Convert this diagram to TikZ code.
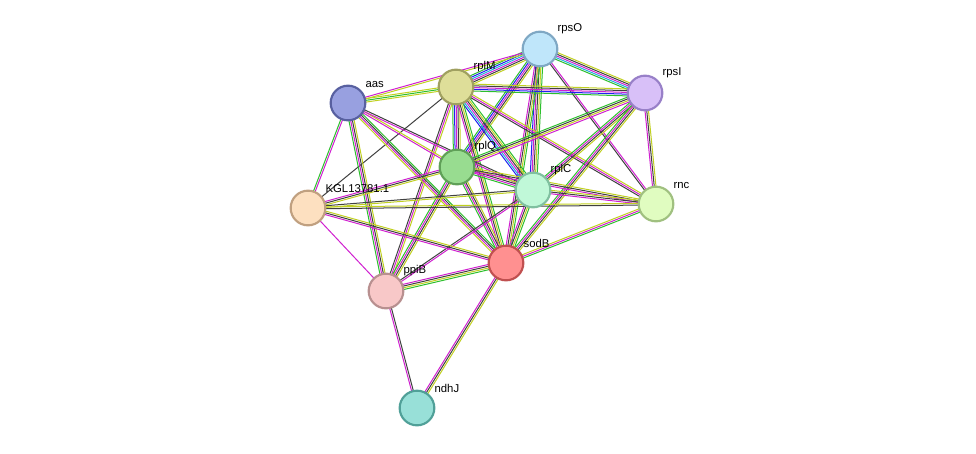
\documentclass[tikz,border=0pt]{standalone}
\usepackage{fontspec}
\setmainfont{Liberation Sans}
\usetikzlibrary{calc}
\definecolor{qg}{HTML}{2DBF2D}
\definecolor{qb}{HTML}{2020F0}
\definecolor{qc}{HTML}{20B0D8}
\definecolor{qm}{HTML}{D020D0}
\definecolor{qk}{HTML}{404040}
\definecolor{qy}{HTML}{C0D020}
\tikzset{prot/.style={circle,minimum size=26pt,inner sep=0pt,line width=1.6pt},
lab/.style={font=\fontsize{8.5pt}{9pt}\selectfont,anchor=south west,inner sep=1pt}}
\newcommand{\edg}[3]{%
 \foreach \c [count=\i] in {#3} {\global\let\n\i}
 \foreach \c [count=\i] in {#3} {
  \pgfmathsetmacro{\d}{(\i-(\n+1)/2)*1.3}
  \draw[color=\c,line width=0.75pt] ($(#1)!\d pt!90:(#2)$) -- ($(#2)!\d pt!-90:(#1)$);
 }}
\begin{document}
\begin{tikzpicture}[x=0.75pt,y=-0.75pt]
\useasboundingbox (0,0) rectangle (976,454);
\coordinate (rpsO) at (540,49);
\coordinate (rplM) at (456,87);
\coordinate (aas) at (348,103);
\coordinate (rpsI) at (645,93);
\coordinate (rplQ) at (457,167);
\coordinate (rplC) at (533,190);
\coordinate (KGL) at (308,208);
\coordinate (rnc) at (656,204);
\coordinate (sodB) at (506,263);
\coordinate (ppiB) at (386,291);
\coordinate (ndhJ) at (417,408);
\edg{rpsO}{rplM}{qg,qb,qc,qm,qk,qy}
\edg{rpsO}{rpsI}{qg,qc,qm,qk,qy}
\edg{rpsO}{aas}{qm,qy}
\edg{rplM}{aas}{qy,qg,qy}
\edg{rpsO}{rplQ}{qg,qb,qm,qk,qy}
\edg{rpsO}{rplC}{qb,qm,qk,qy,qg}
\edg{rpsO}{sodB}{qm,qk,qy,qg}
\edg{rpsO}{rnc}{qk,qm}
\edg{rplM}{rpsI}{qg,qb,qm,qk,qy}
\edg{rplM}{rplQ}{qg,qb,qm,qk,qy}
\edg{rplM}{rplC}{qb,qc,qm,qk,qy,qg}
\edg{rplM}{sodB}{qm,qk,qy,qg}
\edg{rplM}{rnc}{qk,qm,qy}
\edg{rplM}{KGL}{qk}
\edg{rplM}{ppiB}{qk,qm,qy}
\edg{rpsI}{rplQ}{qg,qk,qy,qm}
\edg{rpsI}{rplC}{qg,qm,qk,qy}
\edg{rpsI}{sodB}{qg,qm,qk,qy}
\edg{rpsI}{rnc}{qm,qk,qy}
\edg{aas}{rplQ}{qm,qy}
\edg{aas}{rplC}{qm,qk}
\edg{aas}{sodB}{qy,qm,qk,qg}
\edg{aas}{KGL}{qg,qm}
\edg{aas}{ppiB}{qg,qm,qk,qy}
\edg{rplQ}{rplC}{qg,qm,qk,qy}
\edg{rplQ}{sodB}{qg,qm,qk,qy}
\edg{rplQ}{KGL}{qm,qk,qy}
\edg{rplQ}{ppiB}{qg,qm,qk,qy}
\edg{rplQ}{rnc}{qm,qk,qy}
\edg{rplC}{sodB}{qm,qk,qy,qg}
\edg{rplC}{KGL}{qk,qy}
\edg{rplC}{rnc}{qm,qk,qy}
\edg{rplC}{ppiB}{qk,qm}
\edg{KGL}{sodB}{qm,qk,qy}
\edg{KGL}{ppiB}{qm}
\edg{KGL}{rnc}{qk,qy}
\edg{sodB}{rnc}{qg,qm,qy}
\edg{sodB}{ppiB}{qm,qk,qy,qg}
\edg{sodB}{ndhJ}{qm,qk,qy}
\edg{ppiB}{ndhJ}{qm,qk}
\node[prot,fill={rgb,255:red,191;green,230;blue,250},draw={rgb,255:red,127;green,168;blue,196}] (nrpsO) at (rpsO) {};
\node[prot,fill={rgb,255:red,222;green,222;blue,153},draw={rgb,255:red,160;green,160;blue,96}] (nrplM) at (rplM) {};
\node[prot,fill={rgb,255:red,152;green,160;blue,224},draw={rgb,255:red,88;green,96;blue,160}] (naas) at (aas) {};
\node[prot,fill={rgb,255:red,216;green,192;blue,248},draw={rgb,255:red,152;green,128;blue,200}] (nrpsI) at (rpsI) {};
\node[prot,fill={rgb,255:red,152;green,220;blue,144},draw={rgb,255:red,96;green,160;blue,88}] (nrplQ) at (rplQ) {};
\node[prot,fill={rgb,255:red,192;green,248;blue,216},draw={rgb,255:red,128;green,192;blue,160}] (nrplC) at (rplC) {};
\node[prot,fill={rgb,255:red,253;green,224;blue,192},draw={rgb,255:red,192;green,160;blue,128}] (nKGL) at (KGL) {};
\node[prot,fill={rgb,255:red,224;green,252;blue,192},draw={rgb,255:red,160;green,192;blue,128}] (nrnc) at (rnc) {};
\node[prot,fill={rgb,255:red,255;green,144;blue,144},draw={rgb,255:red,192;green,80;blue,80}] (nsodB) at (sodB) {};
\node[prot,fill={rgb,255:red,248;green,200;blue,200},draw={rgb,255:red,184;green,144;blue,144}] (nppiB) at (ppiB) {};
\node[prot,fill={rgb,255:red,152;green,224;blue,216},draw={rgb,255:red,80;green,160;blue,152}] (nndhJ) at (ndhJ) {};
\node[lab] (lrpsO) at (556,35) {rpsO};
\node[lab] (lrplM) at (472,73) {rplM};
\node[lab] (laas) at (364,89) {aas};
\node[lab] (lrpsI) at (661,79) {rpsI};
\node[lab] (lrplQ) at (473,153) {rplQ};
\node[lab] (lrplC) at (549,176) {rplC};
\node[lab] (lKGL) at (324,194) {KGL13781.1};
\node[lab] (lrnc) at (672,190) {rnc};
\node[lab] (lsodB) at (522,249) {sodB};
\node[lab] (lppiB) at (402,277) {ppiB};
\node[lab] (lndhJ) at (433,394) {ndhJ};
\end{tikzpicture}
\end{document}
